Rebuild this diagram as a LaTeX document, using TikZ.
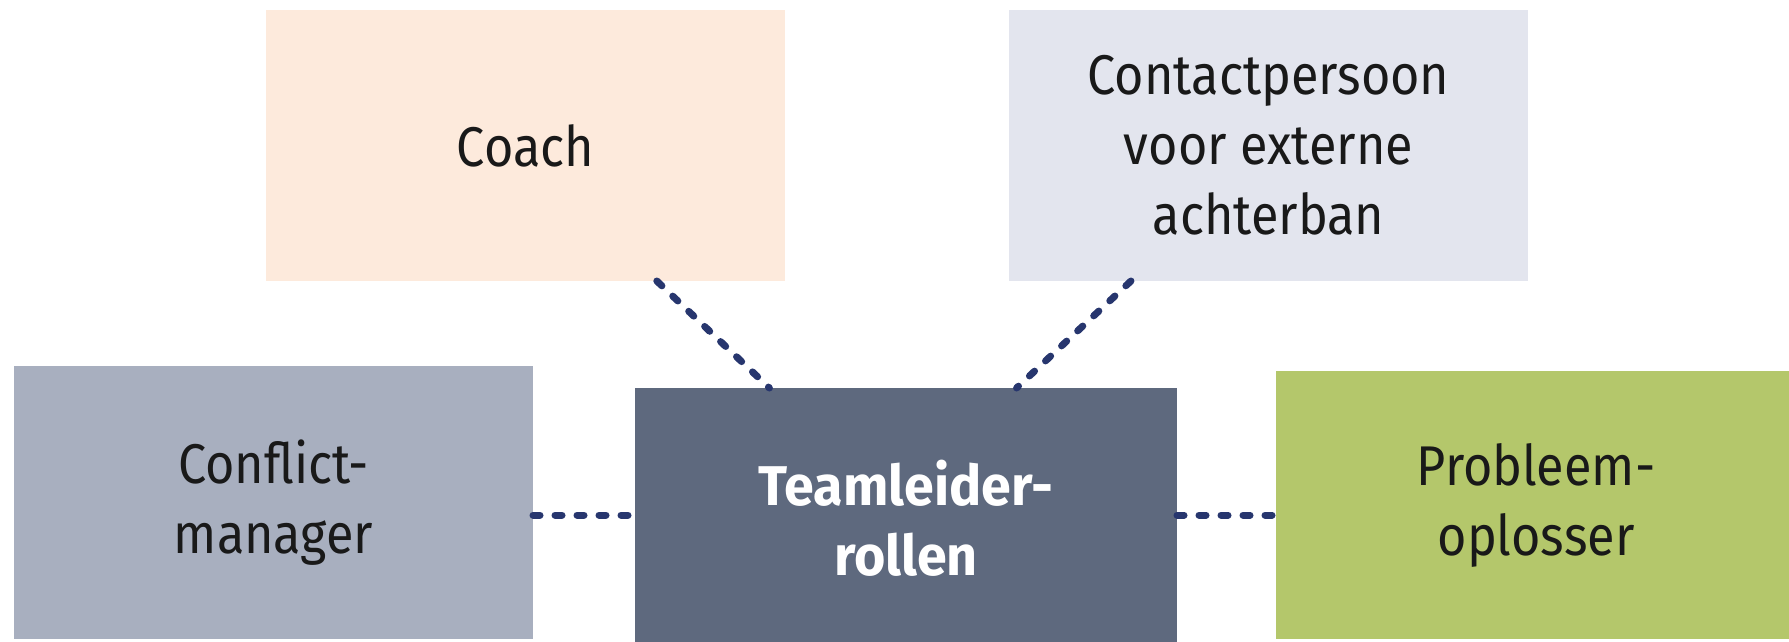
\documentclass[tikz,border=0pt]{standalone}
\usepackage{fontspec}
\setmainfont{Fira Sans}[FakeStretch=0.9]
\newfontfamily\teamfont{Fira Sans}[FakeStretch=0.96]
\usetikzlibrary{calc}

\definecolor{coachfill}{HTML}{FDEADC}
\definecolor{contactfill}{HTML}{E3E5EE}
\definecolor{conflictfill}{HTML}{A8AFBF}
\definecolor{teamfill}{HTML}{5E697E}
\definecolor{probfill}{HTML}{B4C76B}
\definecolor{linkcol}{HTML}{27366E}

\tikzset{
  rolebox/.style={inner sep=0pt, outer sep=0pt, align=center, text=black!90,
    font=\fontsize{56}{70}\selectfont},
  link/.style={draw=linkcol, line width=7pt, line cap=round,
    dash pattern=on 7pt off 15pt}
}

\begin{document}
\begin{tikzpicture}[x=1pt, y=-1pt]
  \useasboundingbox (0,0) rectangle (1789,642);

  % role boxes
  \node[rolebox, fill=coachfill, minimum width=519pt, minimum height=271pt]
    (coach) at (525.5,145.5) {Coach};
  \node[rolebox, fill=contactfill, minimum width=519pt, minimum height=271pt]
    (contact) at (1268.5,145.5) {Contactpersoon\\voor externe\\achterban};
  \node[rolebox, fill=conflictfill, minimum width=519pt, minimum height=273pt]
    (conflict) at (273.5,502.5) {Conflict-\\manager};
  \node[rolebox, fill=probfill, minimum width=520pt, minimum height=268pt]
    (prob) at (1536,505) {Probleem-\\oplosser};
  \node[rolebox, fill=teamfill, text=white, minimum width=542pt, minimum height=260pt,
    font=\teamfont\fontsize{56}{70}\selectfont\bfseries]
    (team) at (906,518) {Teamleider-\\rollen};

  % connectors
  \coordinate (midrow) at (0,515);
  \draw[link] ($(coach.south west)!0.753!(coach.south east)$)
    -- ($(team.north west)!0.248!(team.north east)$);
  \draw[link] ($(contact.south west)!0.235!(contact.south east)$)
    -- ($(team.north west)!0.704!(team.north east)$);
  \draw[link] (conflict.east |- midrow) -- (team.west |- midrow);
  \draw[link] (team.east |- midrow) -- (prob.west |- midrow);
\end{tikzpicture}
\end{document}
